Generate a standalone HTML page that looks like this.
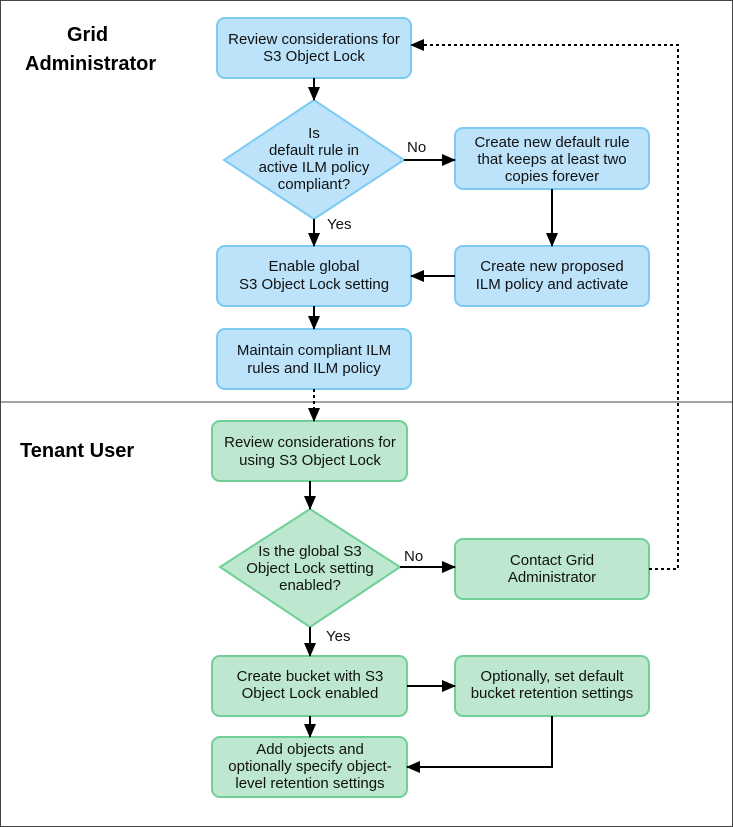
<!DOCTYPE html>
<html><head><style>body{margin:0;background:#fff}svg{display:block}text{font-family:"Liberation Sans",sans-serif}</style></head><body>
<svg width="733" height="827" viewBox="0 0 733 827" xmlns="http://www.w3.org/2000/svg">
<defs><marker id="b" markerWidth="14" markerHeight="12" refX="13" refY="6" orient="auto" markerUnits="userSpaceOnUse"><path d="M0,0 L14,6 L0,12 z" fill="#000"/></marker></defs>
<rect x="0.5" y="0.5" width="732" height="826" fill="#fff" stroke="#444"/>
<line x1="0" y1="402" x2="733" y2="402" stroke="#444"/>
<g font-weight="bold" font-size="20" fill="#000">
<text x="67" y="41">Grid</text><text x="25" y="70">Administrator</text><text x="20" y="457">Tenant User</text></g>
<g fill="#bde3fb" stroke="#7ccaf2" stroke-width="2">
<rect x="217" y="18" width="194" height="60" rx="8"/>
<polygon points="314,100 404,160 314,219 224,160"/>
<rect x="455" y="128" width="194" height="61" rx="8"/>
<rect x="217" y="246" width="194" height="60" rx="8"/>
<rect x="455" y="246" width="194" height="60" rx="8"/>
<rect x="217" y="329" width="194" height="60" rx="8"/></g>
<g fill="#bde8cf" stroke="#6fcf97" stroke-width="2">
<rect x="212" y="421" width="195" height="60" rx="8"/>
<polygon points="310,509 400,567 310,627 220,567"/>
<rect x="455" y="539" width="194" height="60" rx="8"/>
<rect x="212" y="656" width="195" height="60" rx="8"/>
<rect x="455" y="656" width="194" height="60" rx="8"/>
<rect x="212" y="737" width="195" height="60" rx="8"/></g>
<g stroke="#000" stroke-width="2" fill="none" marker-end="url(#b)">
<line x1="314" y1="78" x2="314" y2="100"/>
<line x1="404" y1="160" x2="455" y2="160"/>
<line x1="314" y1="219" x2="314" y2="246"/>
<line x1="552" y1="189" x2="552" y2="246"/>
<line x1="455" y1="276" x2="411" y2="276"/>
<line x1="314" y1="306" x2="314" y2="329"/>
<line x1="314" y1="389" x2="314" y2="421" stroke-dasharray="3,3"/>
<line x1="310" y1="481" x2="310" y2="509"/>
<line x1="400" y1="567" x2="455" y2="567"/>
<line x1="310" y1="627" x2="310" y2="656"/>
<line x1="407" y1="686" x2="455" y2="686"/>
<line x1="310" y1="716" x2="310" y2="737"/>
<polyline points="552,716 552,767 407,767"/>
<polyline points="649,569 678,569 678,45 411,45" stroke-dasharray="3,3"/></g>
<g font-size="15" fill="#111" text-anchor="middle">
<text x="314" y="44">Review considerations for</text><text x="314" y="61">S3 Object Lock</text>
<text x="314" y="138">Is</text><text x="314" y="155">default rule in</text><text x="314" y="172">active ILM policy</text><text x="314" y="189">compliant?</text>
<text x="552" y="147">Create new default rule</text><text x="552" y="164">that keeps at least two</text><text x="552" y="181">copies forever</text>
<text x="314" y="271">Enable global</text><text x="314" y="289">S3 Object Lock setting</text>
<text x="552" y="271">Create new proposed</text><text x="552" y="289">ILM policy and activate</text>
<text x="314" y="355">Maintain compliant ILM</text><text x="314" y="373">rules and ILM policy</text>
<text x="310" y="447">Review considerations for</text><text x="310" y="465">using S3 Object Lock</text>
<text x="310" y="556">Is the global S3</text><text x="310" y="573">Object Lock setting</text><text x="310" y="590">enabled?</text>
<text x="552" y="565">Contact Grid</text><text x="552" y="582">Administrator</text>
<text x="310" y="681">Create bucket with S3</text><text x="310" y="698">Object Lock enabled</text>
<text x="552" y="681">Optionally, set default</text><text x="552" y="698">bucket retention settings</text>
<text x="310" y="754">Add objects and</text><text x="310" y="771">optionally specify object-</text><text x="310" y="788">level retention settings</text></g>
<g font-size="15" fill="#111">
<text x="407" y="152">No</text><text x="327" y="229">Yes</text>
<text x="404" y="561">No</text><text x="326" y="641">Yes</text></g>
</svg></body></html>
